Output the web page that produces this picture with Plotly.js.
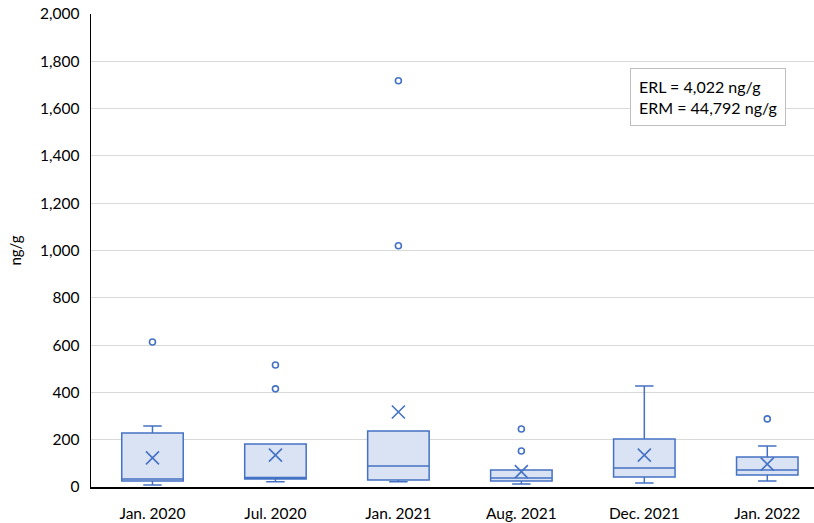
<!DOCTYPE html>
<html>
<head>
<meta charset="utf-8">
<script src="https://cdn.plot.ly/plotly-3.0.1.min.js"></script>
<style>html,body{margin:0;padding:0;background:#fff;}#chart{width:814px;height:523px;}</style>
</head>
<body>
<div id="chart"></div>
<script>
const categories = ["Jan. 2020", "Jul. 2020", "Jan. 2021", "Aug. 2021", "Dec. 2021", "Jan. 2022"];
const lowerWhisker = [8, 22, 22, 13, 17, 25];
const q1 = [25, 34, 30, 25, 42, 51];
const median = [34, 40, 89, 38, 80, 72];
const q3 = [228, 182, 237, 72, 203, 127];
const upperWhisker = [258, 182, 237, 72, 427, 173];
const means = [123, 135, 317, 65, 135, 97];
const outlierCats = ["Jan. 2020", "Jul. 2020", "Jul. 2020", "Jan. 2021", "Jan. 2021", "Aug. 2021", "Aug. 2021", "Jan. 2022"];
const outlierVals = [613, 516, 415, 1718, 1020, 245, 152, 288];
const noteLines = ["ERL = 4,022 ng/g", "ERM = 44,792 ng/g"];

const blue = "#4472c4";
const font = "Lato, 'Noto Sans', sans-serif";

const traces = [
  {
    type: "box",
    x: categories,
    q1: q1,
    median: median,
    q3: q3,
    lowerfence: lowerWhisker,
    upperfence: upperWhisker,
    boxpoints: false,
    width: 0.5,
    whiskerwidth: 0.3,
    fillcolor: "#dae3f3",
    line: {color: blue, width: 1.5},
    hoverinfo: "skip",
    showlegend: false
  },
  {
    type: "scatter",
    mode: "markers",
    x: categories,
    y: means,
    marker: {symbol: "x-thin-open", size: 13, color: blue, line: {color: blue, width: 1.6}},
    hoverinfo: "skip",
    showlegend: false
  },
  {
    type: "scatter",
    mode: "markers",
    x: outlierCats,
    y: outlierVals,
    marker: {symbol: "circle-open", size: 6, color: blue, line: {color: blue, width: 1.6}},
    hoverinfo: "skip",
    showlegend: false
  }
];

const layout = {
  width: 814,
  height: 523,
  margin: {l: 91, r: 0, t: 14, b: 36},
  paper_bgcolor: "#fff",
  plot_bgcolor: "#fff",
  font: {family: font, size: 15.5, color: "#000"},
  showlegend: false,
  xaxis: {
    type: "category",
    range: [-0.5, 5.38],
    showline: true,
    linecolor: "#000",
    linewidth: 1.5,
    showgrid: false,
    ticks: "",
    ticklabelstandoff: 12,
    tickfont: {family: font, size: 15.5, color: "#000"},
    fixedrange: true
  },
  yaxis: {
    range: [0, 2000],
    dtick: 200,
    tickformat: ",",
    showline: true,
    linecolor: "#000",
    linewidth: 1.5,
    showgrid: true,
    gridcolor: "#d9d9d9",
    gridwidth: 1,
    zeroline: false,
    ticks: "",
    ticklen: 0,
    ticklabelstandoff: 7,
    tickfont: {family: font, size: 15.5, color: "#000"},
    title: {text: "ng/g", font: {family: font, size: 15, color: "#000"}, standoff: 14},
    fixedrange: true
  },
  annotations: [
    {
      xref: "paper", yref: "paper",
      x: 0.745, y: 0.824,
      xanchor: "left", yanchor: "middle",
      align: "left",
      text: noteLines.join("<br>"),
      showarrow: false,
      font: {family: font, size: 16, color: "#000"},
      bordercolor: "#bfbfbf",
      borderwidth: 1,
      borderpad: 8,
      bgcolor: "#fff"
    }
  ]
};

Plotly.newPlot("chart", traces, layout, {displayModeBar: false, staticPlot: true});
</script>
</body>
</html>
